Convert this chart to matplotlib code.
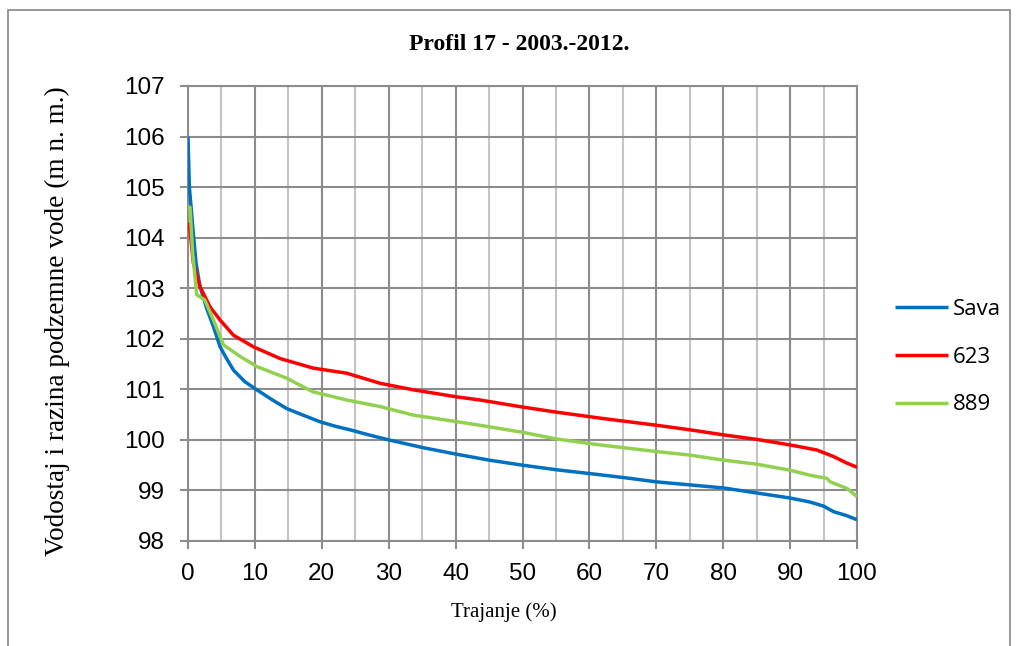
import matplotlib
matplotlib.use("Agg")
import matplotlib.pyplot as plt
from matplotlib.patches import Rectangle

title = "Profil 17 - 2003.-2012."
xlabel = "Trajanje (%)"
ylabel = "Vodostaj i razina podzemne vode (m n. m.)"

sava_x = [0, 0.2, 0.4, 0.75, 1.2, 1.8, 2.8, 3.8, 4.8, 5.8, 6.8, 8.5, 10.3, 12.5, 14.75, 17.0, 19.7, 22.0, 24.2, 27.0,
          30, 35, 40, 45, 50, 55, 61.6, 66, 70, 75, 80, 85, 90, 93, 95, 96.5, 98.5, 100]
sava_y = [106.0, 105.0, 104.7, 104.15, 103.5, 103.03, 102.6, 102.24, 101.84, 101.6, 101.38, 101.15, 100.99, 100.8, 100.62,
          100.5, 100.36, 100.27, 100.2, 100.1, 100.0, 99.85, 99.72, 99.6, 99.5, 99.41, 99.31, 99.24, 99.17, 99.11,
          99.05, 98.95, 98.85, 98.77, 98.69, 98.58, 98.5, 98.42]

r623_x = [0, 0.3, 0.8, 1.8, 3.3, 4.8, 6.8, 9.8, 13.75, 18.7, 23.7, 28.7, 33.7, 40.2, 43.6, 50, 55, 61.6, 70, 75,
          80, 85, 90, 94, 96.5, 98.5, 100]
r623_y = [104.3, 104.15, 103.5, 103.03, 102.63, 102.37, 102.07, 101.84, 101.61, 101.42, 101.32, 101.12, 100.99,
          100.85, 100.79, 100.65, 100.55, 100.43, 100.29, 100.2, 100.1, 100.01, 99.9, 99.8, 99.67, 99.54, 99.46]

g889_x = [0, 0.3, 0.7, 1.3, 2.5, 3.8, 5.3, 7.8, 10.3, 14.75, 16.2, 18.7, 23.7, 28.7, 33.7, 38.7, 43.6, 50, 55,
          61.6, 70, 75, 80, 85, 90, 93, 95.5, 96, 98.5, 100]
g889_y = [104.6, 104.6, 103.7, 102.87, 102.77, 102.37, 101.88, 101.65, 101.45, 101.22, 101.12, 100.95, 100.79,
          100.66, 100.49, 100.39, 100.29, 100.15, 100.02, 99.9, 99.77, 99.7, 99.6, 99.52, 99.4, 99.3, 99.24, 99.17,
          99.04, 98.88]

series = [("Sava", sava_x, sava_y, "#0070C0"),
          ("623", r623_x, r623_y, "#FF0000"),
          ("889", g889_x, g889_y, "#92D050")]

W, H = 1016, 646
fig = plt.figure(figsize=(W / 100, H / 100), dpi=100)
fig.patches.append(Rectangle((8 / W, -0.01), 1002 / W, 1 - 10 / H + 0.01, transform=fig.transFigure,
                             fill=False, edgecolor="#888888", linewidth=1.2))
ax = fig.add_axes([188 / W, 1 - 541 / H, (857 - 188) / W, (541 - 86) / H])

for name, xs, ys, c in series:
    ax.plot(xs, ys, color=c, linewidth=2.5, label=name, solid_capstyle="butt", zorder=3)

ax.set_xlim(0, 100)
ax.set_ylim(98, 107)
ax.set_xticks(range(0, 101, 10))
ax.set_xticks(range(5, 100, 10), minor=True)
ax.set_yticks(range(98, 108))
ax.grid(which="major", color="#8C8C8C", linewidth=1.5, zorder=1)
ax.grid(which="minor", axis="x", color="#C4C4C4", linewidth=1.5, zorder=1)
for s in ax.spines.values():
    s.set_color("#8C8C8C")
    s.set_linewidth(1.5)
ax.tick_params(which="major", length=6, width=1.5, color="#8C8C8C", labelsize=17.5)
ax.tick_params(axis="y", pad=11)
ax.tick_params(axis="x", pad=10)
ax.tick_params(which="minor", length=0)
for lab in ax.get_xticklabels() + ax.get_yticklabels():
    lab.set_fontfamily("Liberation Sans")

fig.text(519 / W, 1 - 45 / H, title, ha="center", va="center", fontsize=17, fontweight="bold",
         family="Liberation Serif")
fig.text(504 / W, 1 - 612 / H, xlabel, ha="center", va="center", fontsize=15, family="Liberation Serif")
fig.text(57 / W, 1 - 321 / H, ylabel, ha="center", va="center", rotation=90, fontsize=19.6,
         family="Liberation Serif")

leg = fig.legend(*ax.get_legend_handles_labels(), loc="center left", bbox_to_anchor=(886 / W, 1 - 357 / H),
                 borderaxespad=0, frameon=False, handlelength=2.4, handletextpad=0.22, labelspacing=1.21,
                 prop={"family": "Open Sans", "size": 16})

fig.savefig("out.png", dpi=100)
